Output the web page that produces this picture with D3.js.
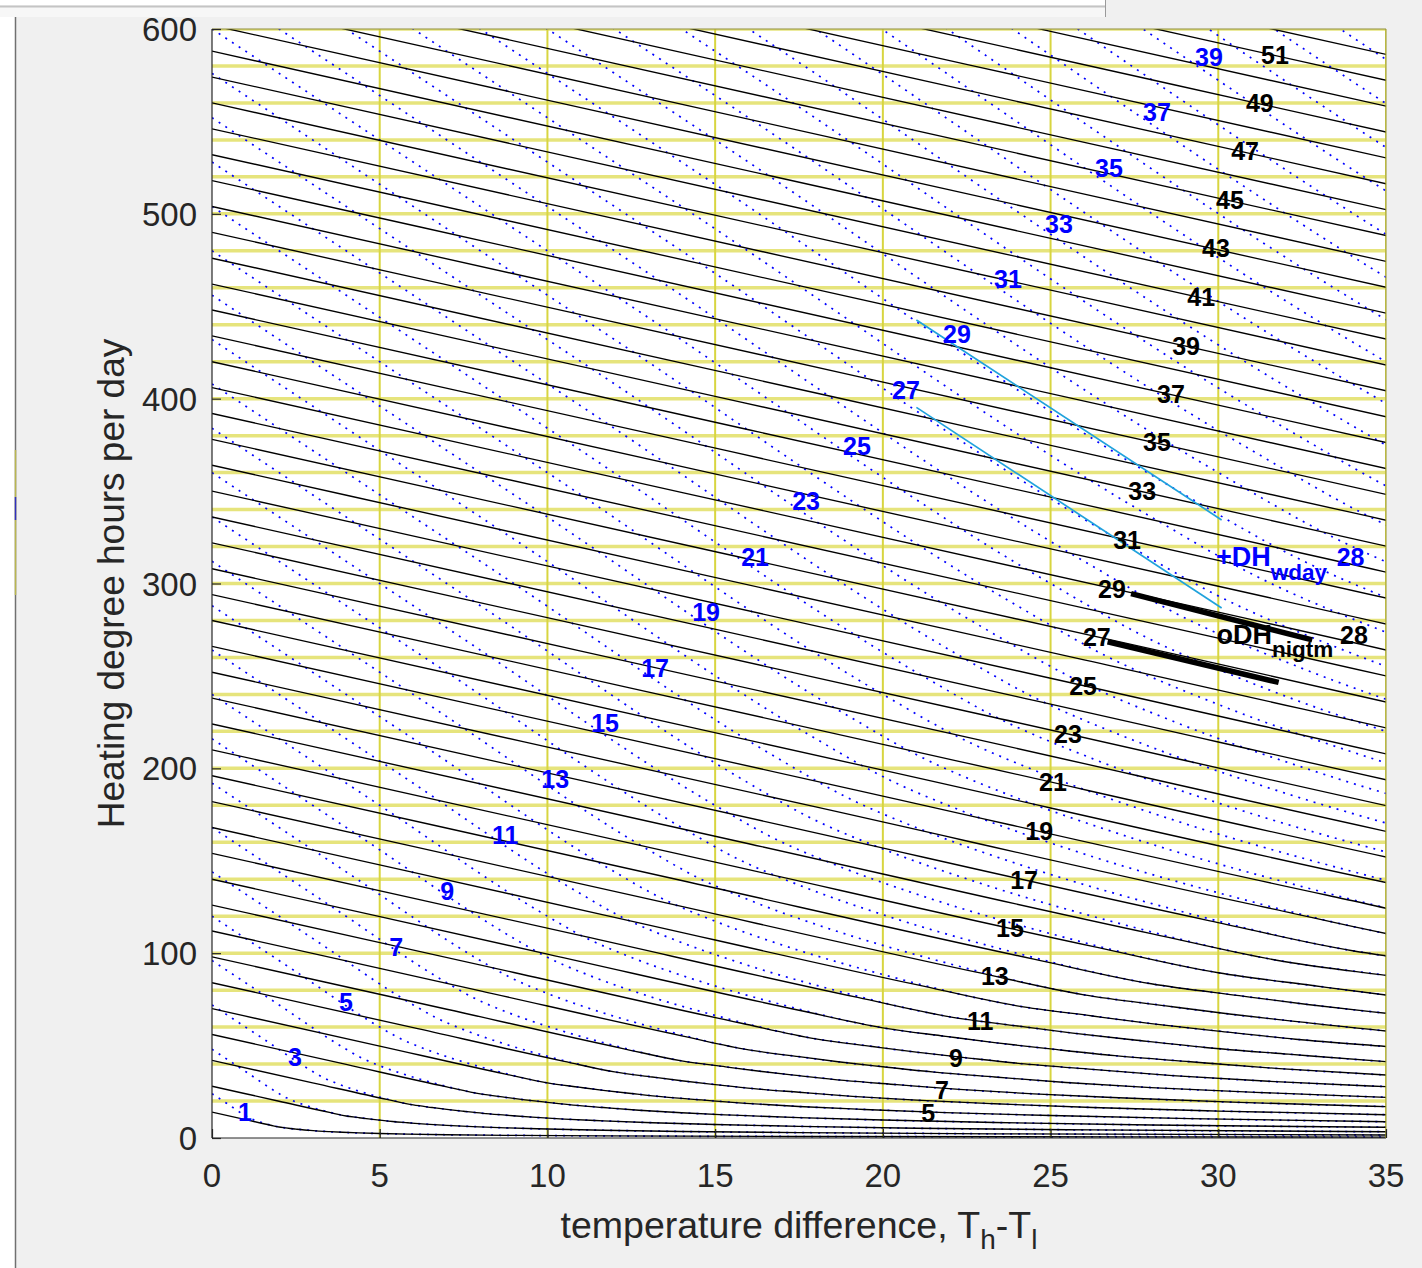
<!DOCTYPE html>
<html>
<head>
<meta charset="utf-8">
<script src="https://cdn.jsdelivr.net/npm/d3@7"></script>
<style>
  body { margin: 0; background: #f0f0f0; }
  svg { display: block; font-family: "Liberation Sans", Arial, sans-serif; }
</style>
</head>
<body>
<svg id="canvas"></svg>
<script>
// ---- values ----
// night curves (black): degree level k, DH = 14k at zero difference
const nightLevels = [1,2,3,4,5,6,7,8,9,10,11,12,13,14,15,16,17,18,19,20,21,22,23,24,25,26,27,28,29,30,
  31,32,33,34,35,36,37,38,39,40,41,42,43,44,45,46,47,48,49,50,51,52,53];
// whole-day curves (blue dotted): level m, DH = 24m at zero difference
const dayLevels = [1,2,3,4,5,6,7,8,9,10,11,12,13,14,15,16,17,18,19,20,21,22,23,24,25,26,27,28,29,30,
  31,32,33,34,35,36,37,38,39,40,41,42];

// shape of one curve measured per unit level: (T difference / level, DH / level)
const nightShapeS = [0, 1, 1.75, 2, 2.1875, 2.333, 2.5, 2.692, 2.917, 3.182, 3.5, 3.889, 4.375, 5, 5.833, 7, 8.75, 11.67, 17.5, 35];
const nightShapeH = [14, 9.95, 6.9125, 5.96, 5.50, 5.159, 4.82, 4.453, 4.124, 3.754, 3.409, 3.088, 2.75, 2.43, 2.10, 1.757, 1.452, 1.132, 0.806, 0.49];
const dayShapeS = [0, 0.5, 1, 1.111, 1.25, 1.4286, 1.6667, 2];
const dayShapeH = [24, 18, 12, 10.863, 9.773, 8.63, 7.37, 5.96];

// curve labels: value, x, DH
const nightLabels = [51,49,47,45,43,41,39,37,35,33,31,29,27,25,23,21,19,17,15,13,11,9,7,5];
const nightLabelX = [31.69,31.24,30.80,30.35,29.93,29.49,29.04,28.59,28.17,27.73,27.28,26.83,26.38,25.97,25.52,25.07,24.66,24.21,23.79,23.34,22.90,22.18,21.76,21.35];
const nightLabelY = [585.9,560.0,534.0,507.5,481.5,455.0,428.5,402.5,376.6,350.1,323.5,297.0,271.1,244.6,218.6,192.6,166.1,139.6,113.6,87.6,63.3,43.3,26.0,13.5];
const dayLabels = [1,3,5,7,9,11,13,15,17,19,21,23,25,27,29,31,33,35,37,39];
const dayLabelX = [0.98,2.47,3.99,5.49,7.01,8.74,10.23,11.72,13.21,14.73,16.19,17.71,19.23,20.69,22.21,23.73,25.25,26.74,28.17,29.72];
const dayLabelY = [14.1,43.8,73.6,103.3,133.6,163.9,194.2,224.5,254.3,284.6,314.3,344.6,374.4,404.7,435.0,464.7,494.5,524.8,555.1,584.9];

const xTicks = [0,5,10,15,20,25,30,35];
const yTicks = [0,100,200,300,400,500,600];
const vGrid = [5,10,15,20,25,30,35];
const hGrid = [20,40,60,80,100,120,140,160,180,200,220,240,260,280,300,320,340,360,380,400,420,440,460,480,500,520,540,560,580,600];

const cyanLines = [[[21.0,442.6],[30.1,334.4]], [[21.0,395.3],[30.1,286.7]]];
const thickLines = [[[27.4,294.5],[32.8,269.5]], [[26.7,268.5],[31.8,246.5]]];

// ---- drawing ----
const W = 1422, H = 1268;
const svg = d3.select("#canvas").attr("width", W).attr("height", H);

// window frame bits
svg.append("rect").attr("x", 0).attr("y", 0).attr("width", 1105).attr("height", 17).attr("fill", "#f7f7f7");
svg.append("rect").attr("x", 0).attr("y", 0).attr("width", 1105).attr("height", 5).attr("fill", "#ffffff");
svg.append("line").attr("x1", 0).attr("x2", 1105).attr("y1", 6.5).attr("y2", 6.5).attr("stroke", "#c4c4c4").attr("stroke-width", 2);
svg.append("line").attr("x1", 1105.5).attr("x2", 1105.5).attr("y1", 0).attr("y2", 17).attr("stroke", "#9a9a9a");
svg.append("rect").attr("x", 0).attr("y", 17).attr("width", 15).attr("height", H - 17).attr("fill", "#ffffff");
svg.append("line").attr("x1", 15.5).attr("x2", 15.5).attr("y1", 17).attr("y2", H).attr("stroke", "#707070").attr("stroke-width", 1.5);
svg.append("line").attr("x1", 15.5).attr("x2", 15.5).attr("y1", 450).attr("y2", 595).attr("stroke", "#b9b650").attr("stroke-width", 1.5);
svg.append("line").attr("x1", 15.5).attr("x2", 15.5).attr("y1", 497).attr("y2", 520).attr("stroke", "#3030c0").attr("stroke-width", 1.5);

const marginLeft = 212, marginRight = 1386, marginTop = 29, marginBottom = 1138;
const xScale = d3.scaleLinear().domain([0, 35]).range([marginLeft, marginRight]);
const yScale = d3.scaleLinear().domain([0, 600]).range([marginBottom, marginTop]);

svg.append("defs").append("clipPath").attr("id", "plotclip")
  .append("rect")
  .attr("x", marginLeft).attr("y", marginTop)
  .attr("width", marginRight - marginLeft).attr("height", marginBottom - marginTop);

svg.append("rect")
  .attr("x", marginLeft).attr("y", marginTop)
  .attr("width", marginRight - marginLeft).attr("height", marginBottom - marginTop)
  .attr("fill", "#ffffff");

const plot = svg.append("g").attr("clip-path", "url(#plotclip)");

// yellow reference lines
plot.selectAll(".hgrid").data(hGrid).join("line")
  .attr("class", "hgrid")
  .attr("x1", xScale(0)).attr("x2", xScale(35))
  .attr("y1", d => yScale(d)).attr("y2", d => yScale(d))
  .attr("stroke", "#e6e47c").attr("stroke-width", 3.5);
plot.selectAll(".vgrid").data(vGrid).join("line")
  .attr("class", "vgrid")
  .attr("x1", d => xScale(d)).attr("x2", d => xScale(d))
  .attr("y1", yScale(0)).attr("y2", yScale(600))
  .attr("stroke", "#d8d540").attr("stroke-width", 2);

const line = d3.line()
  .x(d => xScale(d[0]))
  .y(d => yScale(d[1]))
  .curve(d3.curveMonotoneX);

// each curve is its level times the measured unit shape
const nightPts = k => nightShapeS.map((s, i) => [s * k, nightShapeH[i] * k]);
const dayPts = m => dayShapeS.map((s, i) => [s * m, dayShapeH[i] * m])
  .concat(nightShapeS.map((s, i) => [s * m, nightShapeH[i] * m]).filter((d, i) => nightShapeS[i] > 2));

// blue dotted whole-day curves
plot.selectAll(".day").data(dayLevels).join("path")
  .attr("class", "day")
  .attr("d", m => line(dayPts(m)))
  .attr("fill", "none")
  .attr("stroke", "#0000ff")
  .attr("stroke-width", 1.7)
  .attr("stroke-dasharray", "2 6");

// black night curves
plot.selectAll(".night").data(nightLevels).join("path")
  .attr("class", "night")
  .attr("d", k => line(nightPts(k)))
  .attr("fill", "none")
  .attr("stroke", "#000000")
  .attr("stroke-width", 1.35);

// cyan and thick black segments
plot.selectAll(".cyan").data(cyanLines).join("path")
  .attr("class", "cyan")
  .attr("d", d => d3.line().x(p => xScale(p[0])).y(p => yScale(p[1]))(d))
  .attr("stroke", "#1fa2dc").attr("stroke-width", 1.7).attr("fill", "none");
plot.selectAll(".thick").data(thickLines).join("path")
  .attr("class", "thick")
  .attr("d", d => d3.line().x(p => xScale(p[0])).y(p => yScale(p[1]))(d))
  .attr("stroke", "#000").attr("stroke-width", 5.5).attr("fill", "none");

// curve labels
svg.selectAll(".nlab").data(nightLabels).join("text")
  .attr("class", "nlab")
  .attr("x", (d, i) => xScale(nightLabelX[i]))
  .attr("y", (d, i) => yScale(nightLabelY[i]))
  .attr("text-anchor", "middle")
  .attr("dominant-baseline", "central")
  .attr("font-size", 25).attr("font-weight", "bold").attr("fill", "#000")
  .text(d => d);
svg.selectAll(".dlab").data(dayLabels).join("text")
  .attr("class", "dlab")
  .attr("x", (d, i) => xScale(dayLabelX[i]))
  .attr("y", (d, i) => yScale(dayLabelY[i]))
  .attr("text-anchor", "middle")
  .attr("dominant-baseline", "central")
  .attr("font-size", 25).attr("font-weight", "bold").attr("fill", "#0000ff")
  .text(d => d);

// annotations
const t1 = svg.append("text")
  .attr("x", xScale(29.93)).attr("y", yScale(309.6))
  .attr("font-size", 27).attr("font-weight", "bold").attr("fill", "#0000ff");
t1.append("tspan").text("+DH");
t1.append("tspan").attr("dy", 14).attr("font-size", 22.5).text("wday");
svg.append("text")
  .attr("x", xScale(33.53)).attr("y", yScale(309.6))
  .attr("font-size", 25).attr("font-weight", "bold").attr("fill", "#0000ff")
  .text("28");
const t2 = svg.append("text")
  .attr("x", xScale(29.95)).attr("y", yScale(267.3))
  .attr("font-size", 27).attr("font-weight", "bold").attr("fill", "#000");
t2.append("tspan").text("oDH");
t2.append("tspan").attr("dy", 13).attr("font-size", 22.5).text("nigtm");
svg.append("text")
  .attr("x", xScale(33.63)).attr("y", yScale(267.3))
  .attr("font-size", 25).attr("font-weight", "bold").attr("fill", "#000")
  .text("28");

// axes box and ticks
const axisColor = "#262626";
svg.append("line").attr("x1", marginLeft).attr("x2", marginLeft).attr("y1", marginTop).attr("y2", marginBottom)
  .attr("stroke", axisColor).attr("stroke-width", 1.2);
svg.append("line").attr("x1", marginLeft).attr("x2", marginRight).attr("y1", marginBottom).attr("y2", marginBottom)
  .attr("stroke", axisColor).attr("stroke-width", 1.2);
svg.append("line").attr("x1", marginLeft).attr("x2", marginRight).attr("y1", marginTop).attr("y2", marginTop)
  .attr("stroke", "#8f8d3a").attr("stroke-width", 1.2);
svg.append("line").attr("x1", marginRight).attr("x2", marginRight).attr("y1", marginTop).attr("y2", marginBottom)
  .attr("stroke", "#a7a543").attr("stroke-width", 1.2);

const yAxis = svg.append("g").attr("transform", `translate(${marginLeft},0)`)
  .call(d3.axisRight(yScale).tickValues(yTicks).tickSize(9).tickFormat(""));
const xAxis = svg.append("g").attr("transform", `translate(0,${marginBottom})`)
  .call(d3.axisTop(xScale).tickValues(xTicks).tickSize(9).tickFormat(""));
[yAxis, xAxis].forEach(g => {
  g.select(".domain").remove();
  g.selectAll("line").attr("stroke", axisColor).attr("stroke-width", 1.2);
});

svg.selectAll(".ytl").data(yTicks).join("text")
  .attr("class", "ytl")
  .attr("x", marginLeft - 15)
  .attr("y", d => yScale(d) + 12)
  .attr("text-anchor", "end")
  .attr("font-size", 33).attr("fill", axisColor)
  .text(d => d);
svg.selectAll(".xtl").data(xTicks).join("text")
  .attr("class", "xtl")
  .attr("x", d => xScale(d))
  .attr("y", marginBottom + 49)
  .attr("text-anchor", "middle")
  .attr("font-size", 33).attr("fill", axisColor)
  .text(d => d);

// axis titles
svg.append("text")
  .attr("transform", `translate(123.5,${(marginTop + marginBottom) / 2}) rotate(-90)`)
  .attr("text-anchor", "middle")
  .attr("font-size", 37).attr("fill", axisColor)
  .text("Heating degree hours per day");

const xl = svg.append("text")
  .attr("x", (marginLeft + marginRight) / 2).attr("y", 1238)
  .attr("text-anchor", "middle")
  .attr("font-size", 37.5).attr("fill", axisColor);
xl.append("tspan").text("temperature difference, T");
xl.append("tspan").attr("dy", 11).attr("font-size", 28).text("h");
xl.append("tspan").attr("dy", -11).text("-T");
xl.append("tspan").attr("dy", 11).attr("font-size", 28).text("l");
</script>
</body>
</html>
